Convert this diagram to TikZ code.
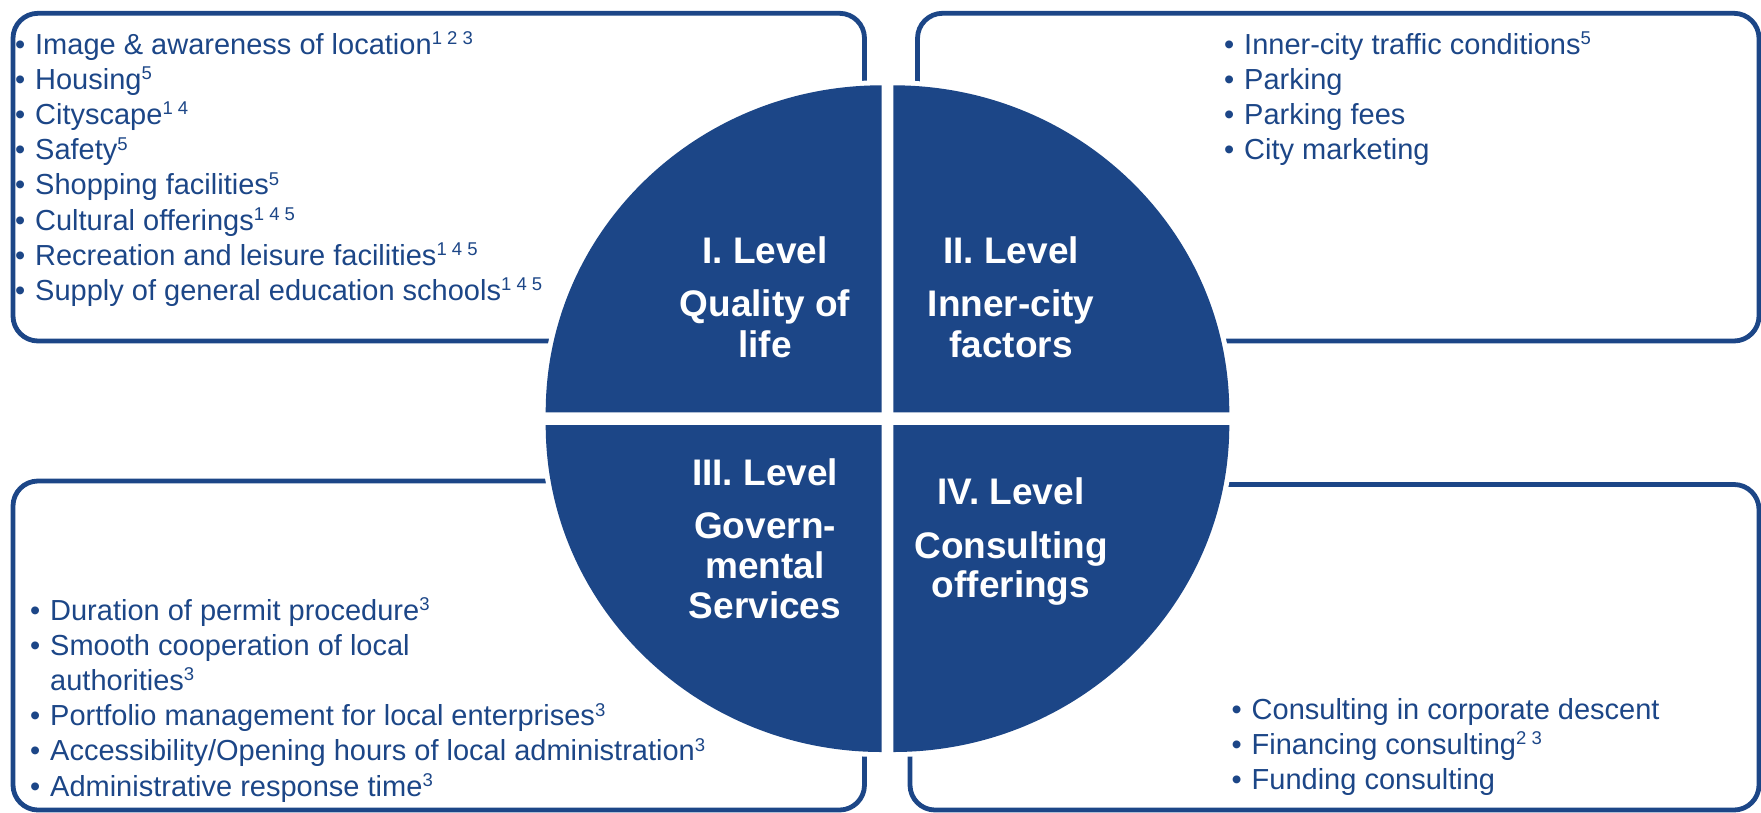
\documentclass[tikz,border=0pt]{standalone}
\usepackage{fontspec}
\setmainfont{Liberation Sans}
\definecolor{dblue}{RGB}{28,70,135}
\newcommand\bul{\makebox[20pt][l]{•}}
\newcommand\sups[1]{\raisebox{9.5pt}{\fontsize{18.5}{18.5}\selectfont #1}}
\begin{document}
\begin{tikzpicture}[x=1pt,y=1pt,
  lst/.style={text=dblue, font=\fontsize{29}{35}\selectfont, inner sep=0pt, anchor=base west},
  ttl/.style={text=white, font=\bfseries\fontsize{37}{40}\selectfont, inner sep=0pt, anchor=base},
  box/.style={draw=dblue, line width=4.8pt, rounded corners=25pt},
  halo/.style={draw=white, line width=10pt},
  quad/.style={fill=dblue}]
\useasboundingbox (0,0) rectangle (1761,-812);
% boxes
\draw[box] (13,-13.3) rectangle (864.5,-341);
\draw[box] (917.5,-13.3) rectangle (1759,-341);
\draw[box] (13,-481) rectangle (864.5,-810);
\draw[box] (910,-484.5) rectangle (1759,-810);
% quadrants: white halo first
\draw[halo] (881.7,-412.3) -- ++(-336,0) arc[start angle=180,end angle=90,x radius=336,y radius=327] -- cycle;
\draw[halo] (893.3,-412.3) -- ++(0,327) arc[start angle=90,end angle=0,x radius=336,y radius=327] -- cycle;
\draw[halo] (881.7,-425) -- ++(-336,0) arc[start angle=180,end angle=270,x radius=336,y radius=327] -- cycle;
\draw[halo] (893.3,-425) -- ++(336,0) arc[start angle=0,end angle=-90,x radius=336,y radius=327] -- cycle;
\fill[quad] (881.7,-412.3) -- ++(-336,0) arc[start angle=180,end angle=90,x radius=336,y radius=327] -- cycle;
\fill[quad] (893.3,-412.3) -- ++(0,327) arc[start angle=90,end angle=0,x radius=336,y radius=327] -- cycle;
\fill[quad] (881.7,-425) -- ++(-336,0) arc[start angle=180,end angle=270,x radius=336,y radius=327] -- cycle;
\fill[quad] (893.3,-425) -- ++(336,0) arc[start angle=0,end angle=-90,x radius=336,y radius=327] -- cycle;
% titles
\node[ttl] (t1a) at (765,-263) {I. Level};
\node[ttl] (t1b) at (765,-316) {Quality of};
\node[ttl] (t1c) at (765,-357) {life};
\node[ttl] (t2a) at (1011,-263) {II. Level};
\node[ttl] (t2b) at (1011,-316) {Inner-city};
\node[ttl] (t2c) at (1011,-357) {factors};
\node[ttl] (t3a) at (765,-485) {III. Level};
\node[ttl] (t3b) at (765,-538) {Govern-};
\node[ttl] (t3c) at (765,-578) {mental};
\node[ttl] (t3d) at (765,-618) {Services};
\node[ttl] (t4a) at (1011,-504) {IV. Level};
\node[ttl] (t4b) at (1011,-558) {Consulting};
\node[ttl] (t4c) at (1011,-597) {offerings};
% top-left list
\node[lst] (a1) at (15,-54) {\bul Image \& awareness of location\sups{1 2 3}};
\node[lst] (a2) at (15,-89.2) {\bul Housing\sups{5}};
\node[lst] (a3) at (15,-124.4) {\bul Cityscape\sups{1 4}};
\node[lst] (a4) at (15,-159.6) {\bul Safety\sups{5}};
\node[lst] (a5) at (15,-194.8) {\bul Shopping facilities\sups{5}};
\node[lst] (a6) at (15,-230) {\bul Cultural offerings\sups{1 4 5}};
\node[lst] (a7) at (15,-265.2) {\bul Recreation and leisure facilities\sups{1 4 5}};
\node[lst] (a8) at (15,-300.4) {\bul Supply of general education schools\sups{1 4 5}};
% top-right list
\node[lst] (b1) at (1224,-54) {\bul Inner-city traffic conditions\sups{5}};
\node[lst] (b2) at (1224,-89.2) {\bul Parking};
\node[lst] (b3) at (1224,-124.4) {\bul Parking fees};
\node[lst] (b4) at (1224,-159.6) {\bul City marketing};
% bottom-left list
\node[lst] (c1) at (30,-620) {\bul Duration of permit procedure\sups{3}};
\node[lst] (c2) at (30,-655.2) {\bul Smooth cooperation of local};
\node[lst] (c2b) at (50,-690.4) {authorities\sups{3}};
\node[lst] (c3) at (30,-725.6) {\bul Portfolio management for local enterprises\sups{3}};
\node[lst] (c4) at (30,-760.8) {\bul Accessibility/Opening hours of local administration\sups{3}};
\node[lst] (c5) at (30,-796) {\bul Administrative response time\sups{3}};
% bottom-right list
\node[lst] (d1) at (1231.5,-719) {\bul Consulting in corporate descent};
\node[lst] (d2) at (1231.5,-754.2) {\bul Financing consulting\sups{2 3}};
\node[lst] (d3) at (1231.5,-789.4) {\bul Funding consulting};
\end{tikzpicture}
\end{document}
